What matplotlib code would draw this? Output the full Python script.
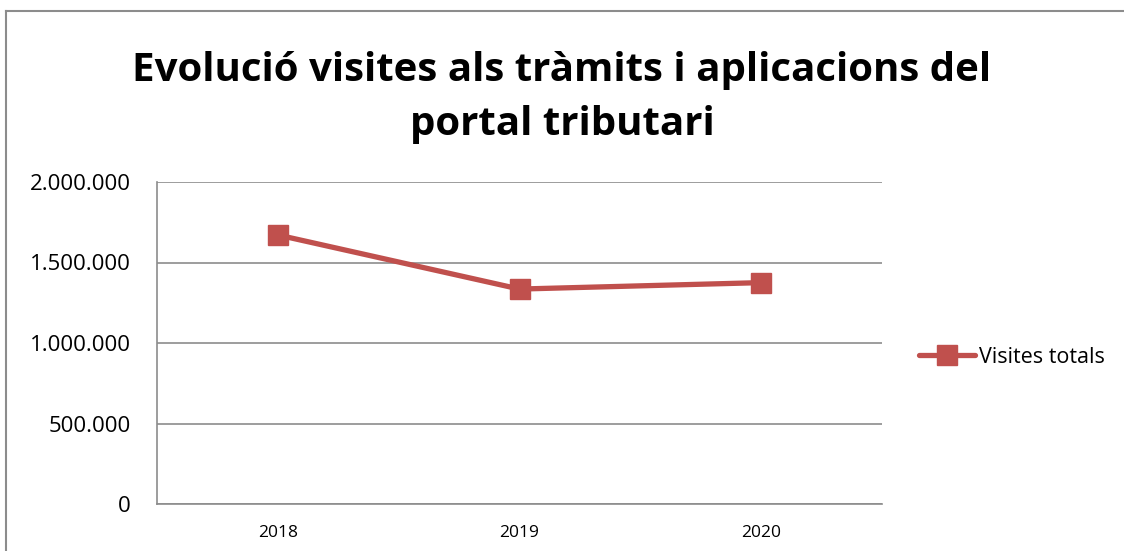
import matplotlib.pyplot as plt
from matplotlib.lines import Line2D
from matplotlib.ticker import FuncFormatter

years = ["2018", "2019", "2020"]
visites = [1671000, 1335000, 1375000]
y_ticks = [0, 500000, 1000000, 1500000, 2000000]

plt.rcParams['font.family'] = ['Open Sans', 'DejaVu Sans']

fig = plt.figure(figsize=(11.24, 5.51), dpi=100)
ax = fig.add_axes([157 / 1124, 1 - 504 / 551, 725 / 1124, 322 / 551])

x = range(len(years))
ax.plot(x, visites, color="#c0504d", linewidth=3.8, marker="s", markersize=14.5,
        label="Visites totals", solid_capstyle="round")

ax.set_xlim(-0.5, len(years) - 0.5)
ax.set_ylim(0, 2000000)
ax.set_xticks(list(x))
ax.set_xticklabels(years, fontsize=12.5)
ax.set_yticks(y_ticks)
ax.yaxis.set_major_formatter(FuncFormatter(lambda v, p: f"{int(v):,}".replace(",", ".")))
ax.tick_params(axis="y", labelsize=16, length=0, pad=19)
ax.tick_params(axis="x", length=0, pad=15)
ax.grid(axis="y", color="#8c8c8c", linewidth=1.2)
ax.set_axisbelow(True)
for s in ["top", "right"]:
    ax.spines[s].set_visible(False)
for s in ["left", "bottom"]:
    ax.spines[s].set_color("#8c8c8c")
    ax.spines[s].set_linewidth(1.2)

fig.text(0.5, 1 - 97 / 551, "Evolució visites als tràmits i aplicacions del\nportal tributari",
         ha="center", va="center", fontsize=29, fontweight="bold", linespacing=1.5)

ax.legend(loc="center left", bbox_to_anchor=(1.025, 0.455), frameon=False, fontsize=15.5,
          handlelength=2.6, handletextpad=0.15)

# chart border (left and top only visible)
fig.add_artist(Line2D([6 / 1124, 6 / 1124], [0, 1 - 11 / 551], transform=fig.transFigure,
                      color="#8c8c8c", linewidth=1.5))
fig.add_artist(Line2D([6 / 1124, 1], [1 - 11 / 551, 1 - 11 / 551], transform=fig.transFigure,
                      color="#8c8c8c", linewidth=1.5))

fig.savefig("out.png", dpi=100)
